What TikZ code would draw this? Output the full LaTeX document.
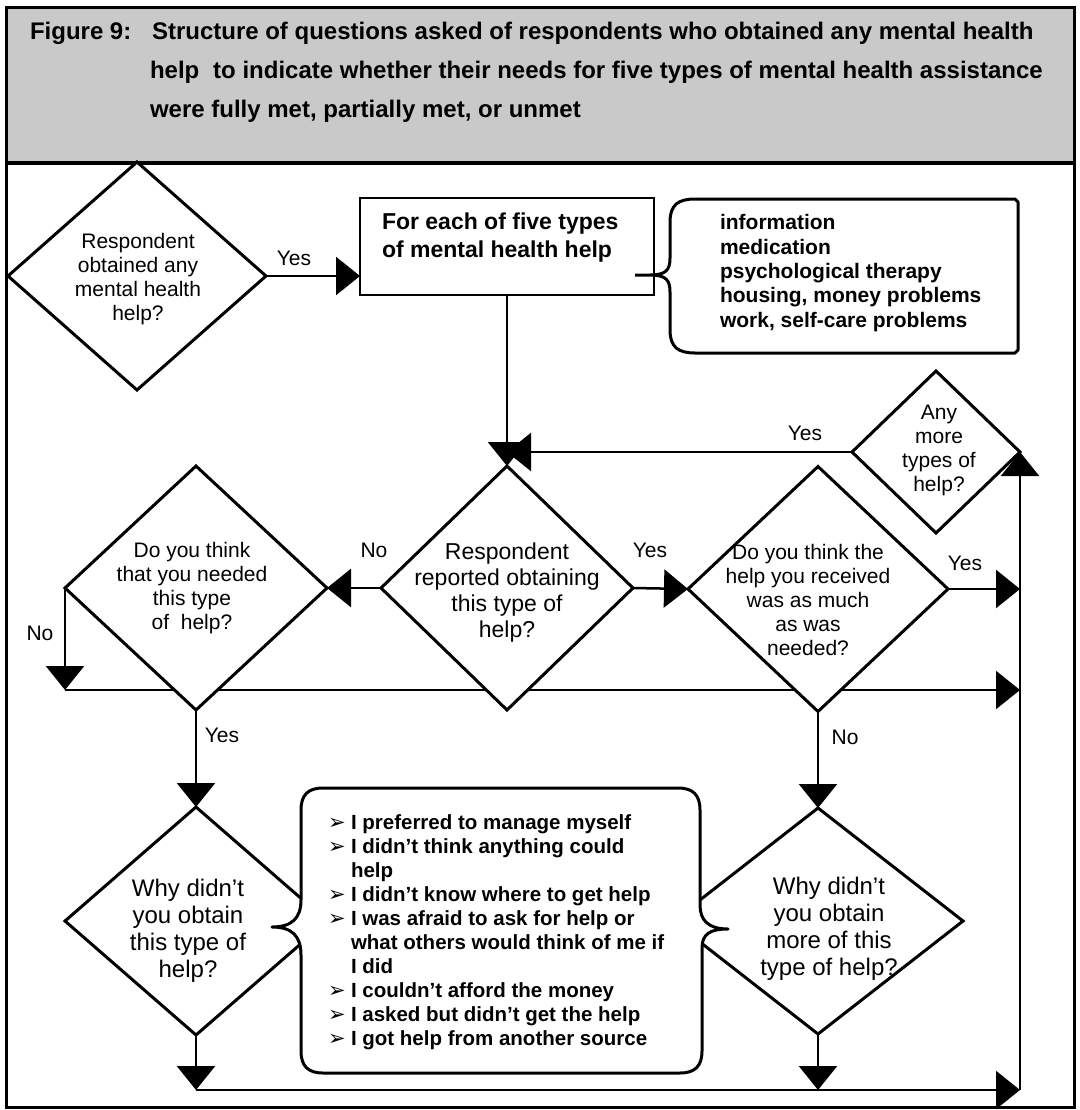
\documentclass[tikz,border=0pt]{standalone}
\usepackage{fontspec}
\setmainfont{Liberation Sans}
\newfontfamily\dejavu{DejaVu Sans}
\usetikzlibrary{shapes.geometric,arrows.meta}
\newcommand{\bul}{\makebox[23pt][l]{\dejavu\fontsize{21}{21}\selectfont ➢}}
\newcommand{\ind}{\hspace*{23pt}}
\begin{document}
\begin{tikzpicture}[x=1pt,y=-1pt,
  every node/.style={inner sep=0pt, outer sep=0pt},
  dia/.style={draw, diamond, line width=3pt, fill=white},
  dtext/.style={align=center, font=\fontsize{21}{24}\selectfont},
  dtextbig/.style={align=center, font=\fontsize{24}{27}\selectfont},
  lbl/.style={font=\fontsize{21}{24}\selectfont},
  ttl/.style={anchor=base west, font=\fontsize{24}{28}\selectfont\bfseries},
  btext/.style={align=left, font=\fontsize{23}{28}\selectfont\bfseries},
  ctext/.style={align=left, font=\fontsize{21}{24.3}\selectfont\bfseries},
  rtext/.style={align=left, font=\fontsize{20.5}{24}\selectfont\bfseries},
  conn/.style={line width=2.5pt, -{Triangle[length=24pt,width=38pt]}},
  frame/.style={line width=3pt},
  callout/.style={line width=3pt, fill=white, line join=round}
]
\useasboundingbox (0,0) rectangle (1079,1110);

% title area
\draw[frame, fill=gray!42] (6,8) rectangle (1074,163);
\node[ttl] (fig) at (30,40) {Figure 9:};
\node[ttl] (t1) at (152,40) {Structure of questions asked of respondents who obtained any mental health};
\node[ttl] (t2) at (150,79) {help\hspace{0.3em} to indicate whether their needs for five types of mental health assistance};
\node[ttl] (t3) at (150,118) {were fully met, partially met, or unmet};
\draw[line width=4pt] (6,163) -- (1074,163);
\draw[frame] (6,163) -- (6,1107) -- (1074,1107) -- (1074,163);

% junction coordinates
\coordinate (hstart) at (65,690);
\coordinate (hend) at (1020,690);
\coordinate (b1) at (196,1090);
\coordinate (b2) at (818,1090);
\coordinate (bend) at (1020,1090);

\draw[conn] (hstart) -- (hend);

% diamonds
\node[dia, minimum width=258pt, minimum height=228pt] (d1) at (137,276) {};
\node[dia, minimum width=252pt, minimum height=244pt] (resp) at (507,588) {};
\node[dia, minimum width=262pt, minimum height=244pt] (need) at (196,588) {};
\node[dia, minimum width=260pt, minimum height=245pt] (dythe) at (818,589) {};
\node[dia, minimum width=168pt, minimum height=162pt] (more) at (936,452) {};
\node[dia, minimum width=262pt, minimum height=228pt] (why1) at (196,921) {};
\node[dia, minimum width=290pt, minimum height=226pt] (why2) at (818,921) {};

\node[dtext] (d1t) at (138,279) {Respondent\\obtained any\\mental health\\help?};
\node[dtext, font=\fontsize{23}{26}\selectfont] (respt) at (507,593) {Respondent\\reported obtaining\\this type of\\help?};
\node[dtext] (needt) at (192,588) {Do you think\\that you needed\\this type\\of\ \ help?};
\node[dtext] (dythet) at (808,600) {Do you think the\\help you received\\was as much\\as was\\needed?};
\node[dtext] (moret) at (939,450) {Any\\more\\types of\\help?};
\node[dtextbig] (why1t) at (188,931) {Why didn’t\\you obtain\\this type of\\help?};
\node[dtextbig] (why2t) at (829,929) {Why didn’t\\you obtain\\more of this\\type of help?};

% box
\node[draw, line width=2.5pt, minimum width=294pt, minimum height=97pt] (box) at (507,246.5) {};
\node[btext, anchor=west] (boxt) at (382,238) {For each of five types\\of mental health help};

% callout with types of help
\draw[callout] (635,275) -- (650,275) .. controls (666,275) and (670,270) .. (670,258) -- (670,222) .. controls (670,205) and (678,199) .. (695,199) -- (1015,199) -- (1018,202) -- (1018,350) -- (1015,353) -- (695,353) .. controls (678,353) and (670,347) .. (670,330) -- (670,292) .. controls (670,280) and (666,275) .. (650,275);
\node[ctext, anchor=west] (callt) at (720,273) {information\\medication\\psychological therapy\\housing, money problems\\work, self-care problems};

% reasons box
\draw[callout] (301,900) -- (301,810) .. controls (301,795) and (308,788) .. (323,788) -- (678,788) .. controls (693,788) and (700,795) .. (700,810) -- (700,905) .. controls (700,920) and (708,929) .. (728,929) .. controls (710,929) and (702,934) .. (702,948) -- (702,1051) .. controls (702,1066) and (695,1073) .. (680,1073) -- (323,1073) .. controls (308,1073) and (301,1066) .. (301,1051) -- (301,955) .. controls (301,936) and (292,927) .. (272,927) .. controls (292,927) and (301,918) .. (301,900) -- cycle;
\node[rtext, anchor=west] (reasons) at (328,932) {\bul I preferred to manage myself\\
\bul I didn’t think anything could\\
\ind help\\
\bul I didn’t know where to get help\\
\bul I was afraid to ask for help or\\
\ind what others would think of me if\\
\ind I did\\
\bul I couldn’t afford the money\\
\bul I asked but didn’t get the help\\
\bul I got help from another source};

% connectors
\draw[conn] (d1.east) -- (d1.east -| box.west);
\draw[conn] (box.south) -- (resp.north);
\draw[conn] (more.west) -- (more.west -| resp.north);
\draw[conn] (resp.west) -- (need.east);
\draw[conn] (resp.east) -- (dythe.west);
\draw[conn] (dythe.east) -- (dythe.east -| more.east);
\draw[conn] (need.west) -- (hstart);
\draw[conn] (need.south) -- (why1.north);
\draw[conn] (dythe.south) -- (why2.north);
\draw[conn] (why1.south) -- (b1);
\draw[conn] (why2.south) -- (b2);
\draw[conn] (b1) -- (bend);
\draw[conn] (bend) -- (more.east);

% labels
\node[lbl] (yes1) at (294,258) {Yes};
\node[lbl] (yes2) at (805,433) {Yes};
\node[lbl] (no1) at (374,550) {No};
\node[lbl] (yes3) at (650,550) {Yes};
\node[lbl] (yes4) at (965,563) {Yes};
\node[lbl] (no2) at (40,633) {No};
\node[lbl] (yes5) at (222,735) {Yes};
\node[lbl] (no3) at (845,737) {No};
\end{tikzpicture}
\end{document}
